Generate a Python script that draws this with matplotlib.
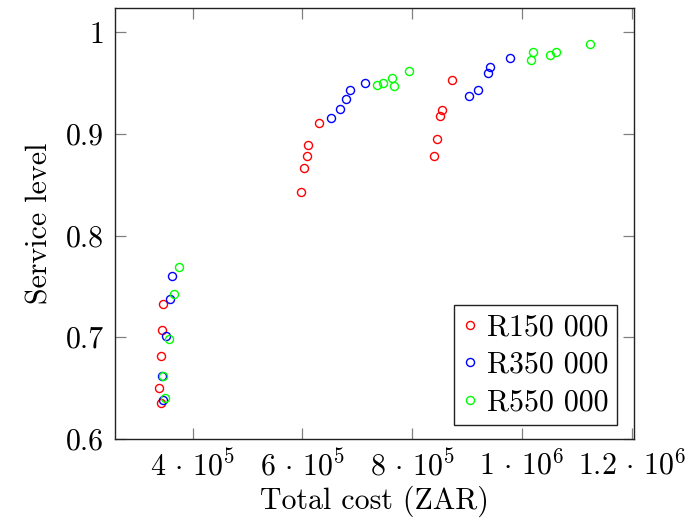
import matplotlib
matplotlib.use("Agg")
import matplotlib.pyplot as plt

plt.rcParams['font.family'] = 'serif'
plt.rcParams['font.serif'] = ['cmr10', 'DejaVu Serif']
plt.rcParams['mathtext.fontset'] = 'cm'
plt.rcParams['axes.unicode_minus'] = False

# Data
red_cost = [3.466e5, 3.443e5, 3.419e5, 3.383e5, 3.424e5,
            6.302e5, 6.102e5, 6.084e5, 6.035e5, 5.975e5,
            8.73e5, 8.537e5, 8.512e5, 8.452e5, 8.397e5]
red_sl = [0.7325, 0.7066, 0.681, 0.650, 0.635,
          0.9108, 0.889, 0.8784, 0.8669, 0.8427,
          0.9528, 0.9239, 0.9177, 0.8954, 0.8784]

blue_cost = [3.625e5, 3.594e5, 3.51e5, 3.443e5, 3.461e5,
             6.521e5, 6.679e5, 6.789e5, 6.862e5, 7.135e5,
             9.035e5, 9.199e5, 9.381e5, 9.412e5, 9.781e5]
blue_sl = [0.7597, 0.7375, 0.7007, 0.662, 0.6378,
           0.916, 0.9246, 0.9344, 0.9436, 0.9501,
           0.9374, 0.9433, 0.9603, 0.9656, 0.975]

green_cost = [3.758e5, 3.661e5, 3.576e5, 3.466e5, 3.503e5,
              7.353e5, 7.474e5, 7.627e5, 7.674e5, 7.936e5,
              1.017e6, 1.0195e6, 1.0516e6, 1.0625e6, 1.1244e6]
green_sl = [0.769, 0.7424, 0.698, 0.662, 0.640,
            0.9479, 0.9501, 0.9554, 0.9472, 0.9619,
            0.9725, 0.9803, 0.9774, 0.9809, 0.9882]

xticks = [4e5, 6e5, 8e5, 1e6, 1.2e6]
xticklabels = [r'$4\,\cdot\,10^{5}$', r'$6\,\cdot\,10^{5}$', r'$8\,\cdot\,10^{5}$',
               r'$1\,\cdot\,10^{6}$', r'$1.2\,\cdot\,10^{6}$']
yticks = [0.6, 0.7, 0.8, 0.9, 1.0]
yticklabels = ['0.6', '0.7', '0.8', '0.9', '1']

fs = 21.5

fig = plt.figure(figsize=(6.86, 5.24), dpi=100)
ax = fig.add_axes([0.1676, 0.1628, 0.9238 - 0.1676, 0.9847 - 0.1628])

mk = dict(marker='o', linestyle='none', markersize=5.8,
          markerfacecolor='none', markeredgewidth=1.0)
ax.plot(red_cost, red_sl, color='#ff0000', label='R150 000', **mk)
ax.plot(blue_cost, blue_sl, color='#0000ff', label='R350 000', **mk)
ax.plot(green_cost, green_sl, color='#00ff00', label='R550 000', **mk)

ax.set_xlim(2.587e5, 1.2036e6)
ax.set_ylim(0.6, 1.024)
ax.set_xticks(xticks)
ax.set_xticklabels(xticklabels)
ax.set_yticks(yticks)
ax.set_yticklabels(yticklabels)

ax.tick_params(direction='in', length=8, width=0.9, color='#808080',
               top=True, right=True, labelsize=fs, pad=8)
for s in ax.spines.values():
    s.set_linewidth(1.0)
    s.set_color('#222222')

ax.set_xlabel('Total cost (ZAR)', fontsize=fs, labelpad=3)
ax.set_ylabel('Service level', fontsize=fs, labelpad=9)

leg = ax.legend(loc='lower right', bbox_to_anchor=(0.9678, 0.0318),
                fontsize=fs, frameon=True, fancybox=False,
                framealpha=1, edgecolor='#222222', handlelength=0.5,
                handletextpad=0.3, borderpad=0.3, labelspacing=0.33,
                borderaxespad=0.0, markerscale=1.0)
leg.get_frame().set_linewidth(1.0)

fig.savefig('out.png', dpi=100)
